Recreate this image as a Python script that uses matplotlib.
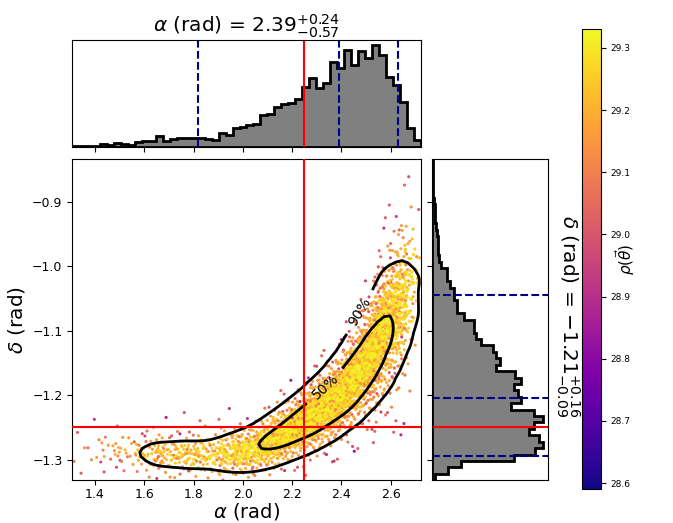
import numpy as np
import matplotlib
matplotlib.use("Agg")
import matplotlib.pyplot as plt
from matplotlib.ticker import FormatStrFormatter

# ---------------- data ----------------
alpha_range = (1.308, 2.722)
delta_range = (-1.332, -0.834)

# marginal histogram of alpha (50 bins over alpha_range), relative heights
alpha_counts = [0.7, 0.7, 0.7, 1.0, 2.3, 1.3, 4.0, 2.3, 2.0, 4.2,
                5.2, 5.2, 10.4, 5.5, 7.2, 8.8, 8.8, 8.5, 8.8, 7.8,
                6.8, 13.7, 11.4, 18.2, 19.2, 20.8, 22.1, 31.3, 31.9, 38.4,
                41.4, 42.3, 46.3, 58.6, 67.4, 57.0, 62.5, 83.0, 76.5, 94.5,
                79.8, 93.5, 87.0, 99.3, 89.6, 68.4, 60.3, 44.0, 17.9, 6.5]

# marginal histogram of delta (50 bins over delta_range, from bottom to top)
delta_counts = [2.4, 14.3, 25.7, 74.0, 93.4, 100.0, 96.4, 87.4, 92.0, 100.0,
                92.0, 71.6, 80.6, 77.6, 74.0, 80.0, 74.6, 57.6, 61.5, 57.6,
                54.6, 44.2, 39.7, 37.6, 37.6, 29.0, 21.8, 21.8, 19.7, 19.7,
                15.8, 12.8, 12.8, 7.8, 6.0, 4.8, 5.4, 5.4, 4.5, 3.0,
                2.4, 2.4, 2.4, 1.2, 0.9, 0.9, 0.9, 0.5, 0.5, 0.5]

# ridge of the joint posterior (centre and core width of delta at given alpha)
alpha_ridge = [1.30, 1.50, 1.70, 1.85, 2.00, 2.10, 2.20, 2.30, 2.40, 2.50, 2.60, 2.68, 2.76]
delta_ridge = [-1.283, -1.288, -1.292, -1.293, -1.288, -1.275, -1.254, -1.230,
               -1.199, -1.150, -1.083, -1.035, -0.980]
delta_spread = [0.015, 0.015, 0.015, 0.015, 0.015, 0.016, 0.017, 0.019,
                0.021, 0.028, 0.040, 0.048, 0.050]

# a few isolated low-likelihood samples
out_alpha = [2.574, 2.550, 2.654, 2.645, 2.232, 1.745, 1.780, 1.437, 2.600, 2.200]
out_delta = [-1.004, -1.001, -1.244, -1.110, -1.210, -1.260, -1.317, -1.319, -0.965, -1.235]
out_rho = [28.62, 29.00, 28.90, 28.95, 28.90, 28.90, 28.95, 29.00, 29.05, 28.95]

truth_alpha, truth_delta = 2.25, -1.25
alpha_q = [1.82, 2.39, 2.63]
delta_q = [-1.295, -1.205, -1.045]
rho_min, rho_max = 28.59, 29.33
rho_ticks = [28.6, 28.7, 28.8, 28.9, 29.0, 29.1, 29.2, 29.3]
alpha_ticks = [1.4, 1.6, 1.8, 2.0, 2.2, 2.4, 2.6]
delta_ticks = [-1.3, -1.2, -1.1, -1.0, -0.9]

title_alpha = r'$\alpha$ (rad) = $2.39^{+0.24}_{-0.57}$'
title_delta = r'$\delta$ (rad) = $-1.21^{+0.16}_{-0.09}$'

# ---------------- build samples deterministically from the read values ----------------
a_edges = np.linspace(alpha_range[0], alpha_range[1], len(alpha_counts) + 1)
d_edges = np.linspace(delta_range[0], delta_range[1], len(delta_counts) + 1)
N = 4000
ac = np.array(alpha_counts)
n_per = np.round(ac / ac.sum() * N).astype(int)
pts_a = []
for i, n in enumerate(n_per):
    k = np.arange(n)
    pts_a.append(a_edges[i] + (k + 0.5) / max(n, 1) * (a_edges[i + 1] - a_edges[i]))
pts_a = np.concatenate(pts_a)
j = np.arange(len(pts_a))
g = 1.32471795724474602596
u1 = np.clip(np.mod(0.5 + j / g, 1.0), 2e-3, 1.0)
u2 = np.mod(0.5 + j / g ** 2, 1.0)
z = np.sqrt(-2 * np.log(u1)) * np.cos(2 * np.pi * u2)
z = np.clip(z, -2.9, 2.9)
zt = z * (1 + 0.07 * z ** 2)          # heavier tails
pts_d = np.interp(pts_a, alpha_ridge, delta_ridge) + zt * np.interp(pts_a, alpha_ridge, delta_spread)
v = np.mod(0.2 + j * np.sqrt(2), 1.0)
pts_c = 29.33 - 0.03 * ((pts_a - 2.3) / 0.4) ** 2 - 0.035 * z ** 2 - 0.2 * v ** 3
pts_c = np.clip(pts_c, 28.6, 29.33)
order = np.argsort(np.mod(j * 0.6180339887, 1.0))
pts_a, pts_d, pts_c = pts_a[order], pts_d[order], pts_c[order]

# density for credible contours
H, xe, ye = np.histogram2d(pts_a, pts_d, bins=(70, 100), range=[[1.2, 2.9], [-1.42, -0.78]])
def smooth(M, sig_x, sig_y):
    for axis, sig in ((0, sig_x), (1, sig_y)):
        r = int(4 * sig) + 1
        x = np.arange(-r, r + 1)
        k = np.exp(-0.5 * (x / sig) ** 2)
        k /= k.sum()
        M = np.apply_along_axis(lambda m: np.convolve(m, k, mode='same'), axis, M)
    return M
H = smooth(H, 1.8, 1.6)
flat = np.sort(H.ravel())[::-1]
cs_ = np.cumsum(flat) / flat.sum()
l50 = flat[np.searchsorted(cs_, 0.5)]
l90 = flat[np.searchsorted(cs_, 0.9)]
xc = 0.5 * (xe[1:] + xe[:-1])
yc = 0.5 * (ye[1:] + ye[:-1])

# ---------------- figure ----------------
fig = plt.figure(figsize=(6.73, 5.23), dpi=100)
ax = fig.add_axes([0.1074, 0.0816, 0.5177, 0.6143])
ax_top = fig.add_axes([0.1074, 0.7195, 0.5177, 0.2040])
ax_right = fig.add_axes([0.6426, 0.0816, 0.1721, 0.6143])
cax = fig.add_axes([0.8643, 0.0644, 0.0287, 0.8797])

sc = ax.scatter(pts_a, pts_d, c=pts_c, cmap='plasma', vmin=rho_min, vmax=rho_max,
                s=5, linewidths=0, zorder=1)
ax.scatter(out_alpha, out_delta, c=out_rho, cmap='plasma', vmin=rho_min, vmax=rho_max,
           s=5, linewidths=0, zorder=1)
cs = ax.contour(xc, yc, H.T, levels=[l90, l50], colors='k', linewidths=2, zorder=3)
ax.clabel(cs, fmt={l90: '90%', l50: '50%'}, manual=[(2.47, -1.07), (2.33, -1.185)],
          fontsize=10, inline=True)
ax.axvline(truth_alpha, color='red', lw=1.5, zorder=4)
ax.axhline(truth_delta, color='red', lw=1.5, zorder=4)
ax.set_xlim(*alpha_range)
ax.set_ylim(*delta_range)
ax.set_xticks(alpha_ticks)
ax.set_yticks(delta_ticks)
ax.tick_params(labelsize=9)
ax.tick_params(axis='x', pad=2)
ax.set_xlabel(r'$\alpha$ (rad)', fontsize=14, labelpad=0)
ax.set_ylabel(r'$\delta$ (rad)', fontsize=14.5, labelpad=4)

# top marginal
a_cent = 0.5 * (a_edges[1:] + a_edges[:-1])
ax_top.hist(a_cent, bins=a_edges, weights=alpha_counts, histtype='stepfilled',
            facecolor='gray', edgecolor='black', linewidth=2)
for q in alpha_q:
    ax_top.axvline(q, color='darkblue', ls='--', lw=1.5)
ax_top.axvline(truth_alpha, color='red', lw=1.5)
ax_top.set_xlim(*alpha_range)
ax_top.set_xticks(alpha_ticks)
ax_top.tick_params(labelbottom=False)
ax_top.set_yticks([])
ax_top.set_title(title_alpha, fontsize=14.5, pad=4)

# right marginal
d_cent = 0.5 * (d_edges[1:] + d_edges[:-1])
ax_right.hist(d_cent, bins=d_edges, weights=delta_counts, histtype='stepfilled',
              orientation='horizontal', facecolor='gray', edgecolor='black', linewidth=2)
for q in delta_q:
    ax_right.axhline(q, color='darkblue', ls='--', lw=1.5)
ax_right.axhline(truth_delta, color='red', lw=1.5)
ax_right.set_ylim(*delta_range)
ax_right.set_yticks(delta_ticks)
ax_right.tick_params(labelleft=False)
ax_right.set_xticks([])
ax_right.text(1.05, 0.51, title_delta, rotation=270, fontsize=14.5,
              transform=ax_right.transAxes, ha='left', va='center')

# colorbar
cb = fig.colorbar(sc, cax=cax)
cb.set_ticks(rho_ticks)
cb.ax.yaxis.set_major_formatter(FormatStrFormatter('%.1f'))
cb.ax.tick_params(labelsize=6.5)
cb.set_label(r'$\rho(\vec{\theta})$', fontsize=11, rotation=90, labelpad=-13)

fig.savefig('out.png', dpi=100)
